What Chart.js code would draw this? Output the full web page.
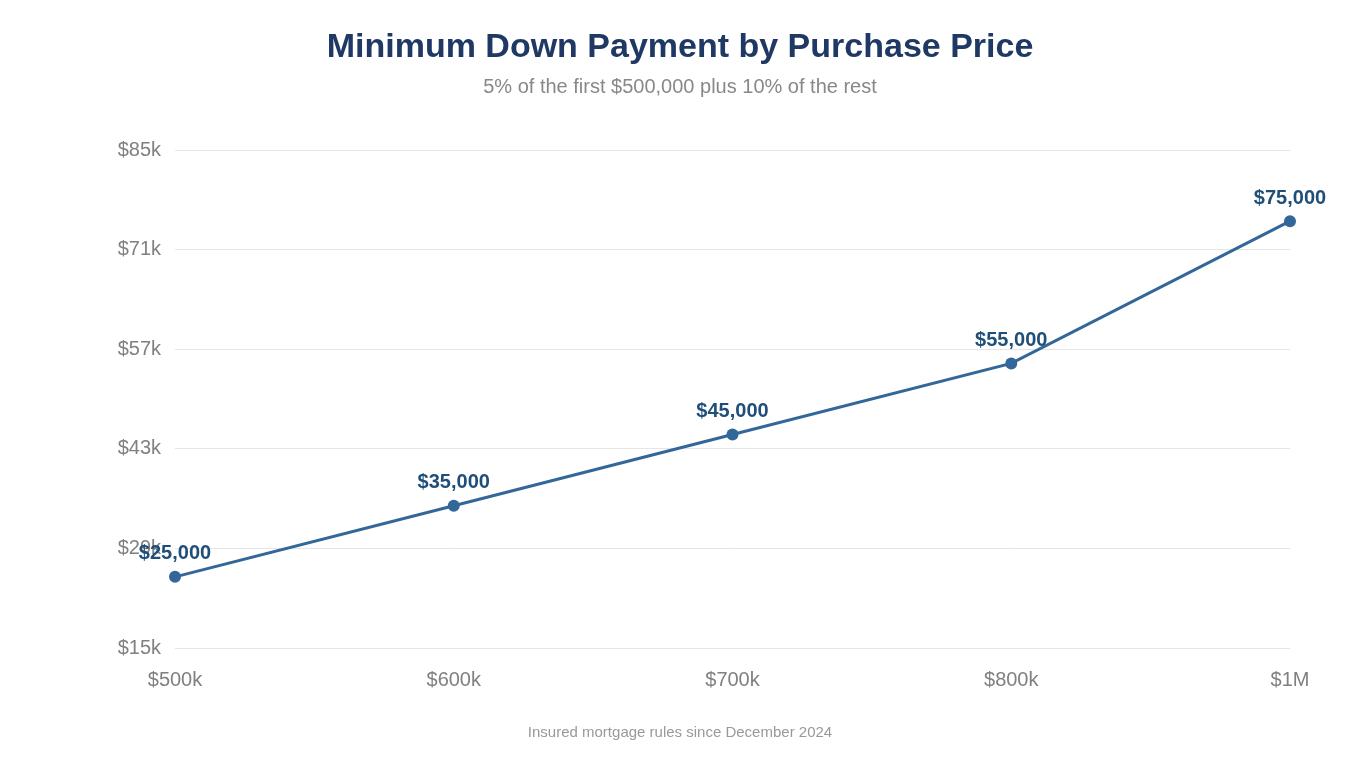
<!DOCTYPE html>
<html>
<head>
<meta charset="utf-8">
<script src="https://cdn.jsdelivr.net/npm/chart.js@4"></script>
<style>
  html, body { margin: 0; padding: 0; background: #fff; }
  #wrap { width: 1360px; height: 760px; }
</style>
</head>
<body>
<div id="wrap"><canvas id="chart" width="1360" height="760"></canvas></div>
<script>
const prices = ['$500k', '$600k', '$700k', '$800k', '$1M']
const downPayments = [25000, 35000, 45000, 55000, 75000]
const yTicks = [15000, 29000, 43000, 57000, 71000, 85000]

const titleText = 'Minimum Down Payment by Purchase Price'
const subtitleText = '5% of the first $500,000 plus 10% of the rest'
const footerText = 'Insured mortgage rules since December 2024'

const fontFamily = '"Liberation Sans", Arial, Helvetica, sans-serif'

// draws "$25,000" style labels above each point
const pointLabels = {
    id: 'pointLabels',
    afterDatasetsDraw(chart) {
        const ctx = chart.ctx
        const meta = chart.getDatasetMeta(0)
        ctx.save()
        ctx.font = 'bold 20px ' + fontFamily
        ctx.fillStyle = '#1f4e79'
        ctx.textAlign = 'center'
        ctx.textBaseline = 'middle'
        meta.data.forEach((pt, i) => {
            const v = chart.data.datasets[0].data[i]
            ctx.fillText('$' + v.toLocaleString('en-US'), pt.x, pt.y - 23)
        })
        ctx.restore()
    }
}

// title, subtitle and footer centred on the whole canvas
const headings = {
    id: 'headings',
    afterDraw(chart) {
        const ctx = chart.ctx
        const cx = chart.width / 2
        ctx.save()
        ctx.textAlign = 'center'
        ctx.textBaseline = 'middle'
        ctx.font = 'bold 34px ' + fontFamily
        ctx.fillStyle = '#1f3864'
        ctx.fillText(titleText, cx, 48)
        ctx.font = '20px ' + fontFamily
        ctx.fillStyle = '#888888'
        ctx.fillText(subtitleText, cx, 87)
        ctx.font = '15px ' + fontFamily
        ctx.fillStyle = '#999999'
        ctx.fillText(footerText, cx, 733)
        ctx.restore()
    }
}

const chart = new Chart(document.getElementById('chart'), {
    type: 'line',
    data: {
        labels: prices,
        datasets: [{
            data: downPayments,
            borderColor: '#336699',
            backgroundColor: '#336699',
            borderWidth: 3,
            pointRadius: 6,
            pointHoverRadius: 6,
            pointBackgroundColor: '#336699',
            pointBorderWidth: 0,
            tension: 0,
            fill: false
        }]
    },
    options: {
        responsive: false,
        animation: false,
        layout: { padding: { top: 150, left: 90, right: 70, bottom: 67 } },
        plugins: {
            legend: { display: false },
            tooltip: { enabled: false },
            title: { display: false },
            subtitle: { display: false }
        },
        scales: {
            x: {
                offset: false,
                border: { display: false },
                grid: { display: false, drawTicks: false },
                ticks: {
                    color: '#808080',
                    font: { family: fontFamily, size: 20 },
                    padding: 20,
                    maxRotation: 0
                },
                afterFit(scale) { scale.height = 45 }
            },
            y: {
                min: 15000,
                max: 85000,
                border: { display: false },
                grid: { color: '#e5e5e5', lineWidth: 1, drawTicks: false },
                afterBuildTicks(scale) { scale.ticks = yTicks.map(v => ({ value: v })) },
                ticks: {
                    color: '#808080',
                    font: { family: fontFamily, size: 20 },
                    padding: 14,
                    callback: v => '$' + (v / 1000) + 'k'
                },
                afterFit(scale) { scale.width = 85 }
            }
        }
    },
    plugins: [pointLabels, headings]
})
</script>
</body>
</html>
